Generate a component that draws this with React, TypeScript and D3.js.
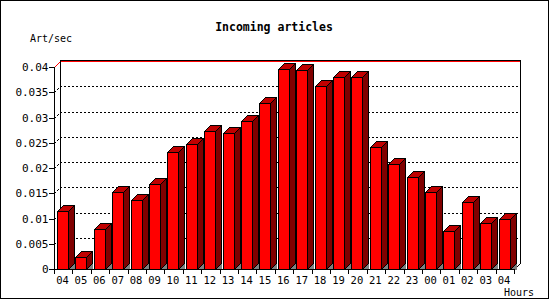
import React from "react";
import * as d3 from "d3";

const hours = ["04","05","06","07","08","09","10","11","12","13","14","15","16","17","18","19","20","21","22","23","00","01","02","03","04"];
const rate = [0.0115,0.0023,0.0079,0.0152,0.0137,0.0168,0.0231,0.0247,0.0274,0.0269,0.0294,0.0328,0.0397,0.0395,0.0362,0.0381,0.0381,0.0241,0.0207,0.0183,0.0152,0.0075,0.0132,0.0091,0.0100];
const yTicks = [0,0.005,0.01,0.015,0.02,0.025,0.03,0.035,0.04];
const yTickLabels = ["0","0.005","0.01","0.015","0.02","0.025","0.03","0.035","0.04"];

const W = 550, H = 300;
const D = 6; // 3D depth
const FONT = "'DejaVu Sans Mono', monospace";

export default function App() {
  const x = d3.scaleBand<number>().domain(hours.map((_, i) => i)).range([54, 514]).padding(0);
  const y = d3.scaleLinear().domain([0, 0.04]).range([269, 67]);
  const step = x.step();
  const bw = Math.round(step * 0.6);
  const off = step * 0.165;
  const x0 = 54, x1 = 514, y0 = Math.round(y(0));
  const yTop = Math.round(y(0.04));

  return (
    <svg width={W} height={H} style={{ position: "absolute", left: 0, top: 0, background: "#fff" }} fontFamily={FONT}>
      <rect x={0.5} y={0.5} width={548} height={298} fill="#fff" stroke="#000" />
      <text x={274} y={31} textAnchor="middle" fontWeight="bold" fontSize={11.5}>Incoming articles</text>
      <text x={30} y={42} fontSize={10}>Art/sec</text>
      <text x={504} y={296} fontSize={10}>Hours</text>

      {/* gridlines */}
      {yTicks.slice(1, -1).map((v, i) => {
        const yy = Math.round(y(v)) + 0.5;
        return (
          <path key={i} d={`M${x0 + 0.5},${yy} L${x0 + D + 0.5},${yy - D} L${x1 + D},${yy - D}`} fill="none" stroke="#000" strokeDasharray="2,2" shapeRendering="crispEdges" />
        );
      })}
      {/* top red line */}
      <path d={`M${x0 + 0.5},${yTop + 0.5} L${x0 + D + 0.5},${yTop - D + 0.5} L${x1 + D + 0.5},${yTop - D + 0.5}`} fill="none" stroke="#ff0000" />
      <line x1={x0 + D} x2={x1 + D + 1} y1={yTop - D - 0.5} y2={yTop - D - 0.5} stroke="#000" shapeRendering="crispEdges" />
      {/* back plane edges */}
      <line x1={x0 + D + 0.5} x2={x0 + D + 0.5} y1={yTop - D} y2={y0 - D} stroke="#000" shapeRendering="crispEdges" />
      <line x1={x1 + D + 0.5} x2={x1 + D + 0.5} y1={yTop - D - 1} y2={y0 - D} stroke="#000" shapeRendering="crispEdges" />
      <line x1={x1 + 0.5} y1={y0 + 0.5} x2={x1 + D + 0.5} y2={y0 - D + 0.5} stroke="#000" shapeRendering="crispEdges" />

      {/* bars */}
      {rate.map((v, i) => {
        const bx = Math.round((x(i) as number) + off) + 0.5;
        const top = Math.round(y(v)) + 0.5;
        const bot = y0 + 0.5;
        const r = bx + bw;
        return (
          <g key={i} shapeRendering="crispEdges" stroke="#000" strokeWidth={1}>
            <polygon points={`${r},${bot} ${r + D},${bot - D} ${r + D},${bot}`} fill="#808080" stroke="none" />
            <polygon points={`${r},${top} ${r + D},${top - D} ${r + D},${bot - D} ${r},${bot}`} fill="#800000" />
            <polygon points={`${bx},${top} ${bx + D},${top - D} ${r + D},${top - D} ${r},${top}`} fill="#c00000" />
            <rect x={bx} y={top} width={bw} height={bot - top} fill="#ff0000" />
          </g>
        );
      })}

      {/* front axes */}
      <line x1={x0 + 0.5} x2={x0 + 0.5} y1={yTop} y2={y0 + 1} stroke="#000" shapeRendering="crispEdges" />
      <line x1={x0} x2={x1 + 1} y1={y0 + 0.5} y2={y0 + 0.5} stroke="#000" shapeRendering="crispEdges" />
      {yTicks.map((v, i) => {
        const yy = Math.round(y(v)) + 0.5;
        return (
          <g key={i}>
            <line x1={x0 - 5} x2={x0} y1={yy} y2={yy} stroke="#000" shapeRendering="crispEdges" />
            <text x={48.5} y={yy + 3.8} textAnchor="end" fontSize={11}>{yTickLabels[i]}</text>
          </g>
        );
      })}
      {hours.map((h, i) => {
        const tx = Math.round(x(i) as number) + 0.5;
        return <line key={"t" + i} x1={tx} x2={tx} y1={y0} y2={y0 + 5} stroke="#000" shapeRendering="crispEdges" />;
      })}
      <line x1={x1 + 0.5} x2={x1 + 0.5} y1={y0} y2={y0 + 5} stroke="#000" shapeRendering="crispEdges" />
      {hours.map((h, i) => {
        const cx = (x(i) as number) + off + bw / 2;
        return <text key={"l" + i} x={cx} y={283.5} textAnchor="middle" fontSize={10.5}>{h}</text>;
      })}
    </svg>
  );
}
